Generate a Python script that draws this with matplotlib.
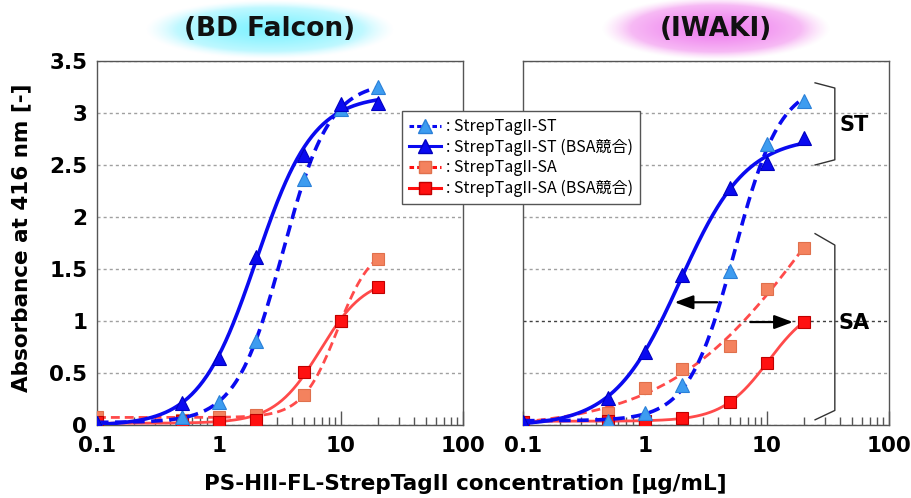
import numpy as np
import matplotlib
matplotlib.use("Agg")
import matplotlib.pyplot as plt
from matplotlib.lines import Line2D
import matplotlib.transforms as mtransforms

# ---------------- data ----------------
conc = [0.1, 0.5, 1, 2, 5, 10, 20]

falcon_st = [0.02, 0.08, 0.22, 0.81, 2.37, 3.04, 3.25]
falcon_st_bsa = [0.02, 0.21, 0.64, 1.62, 2.60, 3.09, 3.10]
falcon_sa = [0.08, 0.05, 0.08, 0.10, 0.29, 1.00, 1.60]
falcon_sa_bsa = [0.03, 0.04, 0.03, 0.05, 0.51, 1.00, 1.33]

iwaki_st = [0.02, 0.04, 0.12, 0.38, 1.48, 2.70, 3.12]
iwaki_st_bsa = [0.03, 0.26, 0.70, 1.44, 2.28, 2.52, 2.76]
iwaki_sa = [0.03, 0.12, 0.36, 0.54, 0.76, 1.31, 1.70]
iwaki_sa_bsa = [0.03, 0.04, 0.04, 0.07, 0.22, 0.60, 0.99]

series_labels = [": StrepTagII-ST", ": StrepTagII-ST (BSA競合)",
                 ": StrepTagII-SA", ": StrepTagII-SA (BSA競合)"]
panel_titles = ["(BD Falcon)", "(IWAKI)"]
xtick_vals = [0.1, 1, 10, 100]
xtick_labels = ["0.1", "1", "10", "100"]
ytick_vals = [0, 0.5, 1, 1.5, 2, 2.5, 3, 3.5]
ytick_labels = ["0", "0.5", "1", "1.5", "2", "2.5", "3", "3.5"]


def logistic(p, lx):
    a, d, m, b = p
    return a + (d - a) / (1.0 + 10.0 ** (-b * (lx - m)))


def fit_curve(x, y):
    """Four-parameter logistic fit (in log10 x) by Levenberg-Marquardt."""
    lx = np.log10(np.asarray(x, float)); y = np.asarray(y, float)
    half = y.min() + 0.5 * (y.max() - y.min())
    m0 = np.interp(half, np.sort(y), np.sort(lx))
    p = np.array([y.min(), y.max() * 1.05, m0, 2.0])
    sse = lambda q: np.sum((y - logistic(q, lx)) ** 2)
    lam = 1e-2
    cur = sse(p)
    for _ in range(800):
        r = y - logistic(p, lx)
        J = np.zeros((len(lx), 4))
        for j in range(4):
            dp = np.zeros(4); dp[j] = 1e-6
            J[:, j] = (logistic(p + dp, lx) - logistic(p - dp, lx)) / 2e-6
        A = J.T @ J; g = J.T @ r
        try:
            step = np.linalg.solve(A + lam * np.diag(np.diag(A) + 1e-9), g)
        except np.linalg.LinAlgError:
            break
        pn = p + step
        pn[3] = np.clip(pn[3], 0.3, 8)
        pn[1] = np.clip(pn[1], y.max() * 0.8, y.max() * 2.2)
        pn[2] = np.clip(pn[2], -1, 2)
        new = sse(pn)
        if np.isfinite(new) and new < cur:
            p, cur = pn, new; lam *= 0.3
        else:
            lam *= 10
        if lam > 1e8:
            break
    return p


plt.rcParams['font.family'] = ['DejaVu Sans']
fig = plt.figure(figsize=(9.12, 4.98), dpi=100)
W, H = 912, 498

# background glow ellipses behind titles
bg = fig.add_axes([0, 0, 1, 1], zorder=-5)
bg.set_xlim(0, W); bg.set_ylim(H, 0); bg.axis('off')


def glow(cx, cy, ax_, ay_, c_center, c_edge):
    x0, x1 = cx - ax_ - 5, cx + ax_ + 5
    y0, y1 = cy - ay_ - 5, cy + ay_ + 5
    xs = np.linspace(x0, x1, 300); ys = np.linspace(y0, y1, 120)
    X, Y = np.meshgrid(xs, ys)
    r = np.sqrt(((X - cx) / ax_) ** 2 + ((Y - cy) / ay_) ** 2)
    t = np.clip(r, 0, 1)[..., None]
    cc = np.array(matplotlib.colors.to_rgb(c_center)); ce = np.array(matplotlib.colors.to_rgb(c_edge))
    col = cc * (1 - t ** 1.3) + ce * t ** 1.3
    alpha = np.clip((1 - r) / 0.25, 0, 1)
    img = np.dstack([col, alpha])
    bg.imshow(img, extent=(x0, x1, y1, y0), interpolation='bilinear', aspect='auto')


glow(270, 30, 124, 29, '#7ff2ff', '#dcfbff')
glow(716, 29, 114, 31, '#ee7cee', '#fbd6f8')

c_lblue = '#3d9cf0'; c_blue = '#0a0af0'
c_orange = '#f4825e'; c_red = '#ff1010'
c_redline = '#ff4a4a'

ax_left = fig.add_axes([97 / W, 1 - 425 / H, 366 / W, 364 / H])
ax_right = fig.add_axes([523 / W, 1 - 425 / H, 366 / W, 364 / H])

xn = np.logspace(np.log10(conc[0]), np.log10(conc[-1]), 300)
lxn = np.log10(xn)

for ax, data, title, tx in [
        (ax_left, (falcon_st, falcon_st_bsa, falcon_sa, falcon_sa_bsa), panel_titles[0], 270),
        (ax_right, (iwaki_st, iwaki_st_bsa, iwaki_sa, iwaki_sa_bsa), panel_titles[1], 716)]:
    st, st_bsa, sa, sa_bsa = data
    fits = [np.clip(logistic(fit_curve(conc, s), lxn), 0.005, None) for s in (st, st_bsa, sa, sa_bsa)]
    # red curves first
    ax.plot(xn, fits[2], color=c_redline, lw=2.0, ls=(0, (3.2, 1.8)), zorder=3)
    ax.plot(xn, fits[3], color=c_redline, lw=2.0, zorder=3)
    ax.plot(conc, sa, ls='none', marker='s', ms=8.5, mfc=c_orange, mec='#e0704c', mew=0.8, zorder=4)
    ax.plot(conc, sa_bsa, ls='none', marker='s', ms=8.5, mfc=c_red, mec='#c00000', mew=0.8, zorder=4)
    ax.plot(xn, fits[0], color=c_blue, lw=2.6, ls=(0, (3.2, 1.8)), zorder=5)
    ax.plot(xn, fits[1], color=c_blue, lw=2.6, zorder=5)
    ax.plot(conc, st, ls='none', marker='^', ms=10, mfc=c_lblue, mec='#2a80d8', mew=0.8, zorder=6)
    ax.plot(conc, st_bsa, ls='none', marker='^', ms=10, mfc=c_blue, mec='#0000c0', mew=0.8, zorder=6)

    ax.set_xscale('log')
    ax.set_xlim(0.1, 100)
    ax.set_ylim(0, 3.5)
    ax.set_xticks(xtick_vals)
    ax.set_xticklabels(xtick_labels, fontsize=15.5, fontweight='bold')
    ax.tick_params(axis='x', which='major', direction='in', length=10, width=1, color='#555555', pad=8)
    ax.tick_params(axis='x', which='minor', direction='in', length=6, width=1, color='#555555')
    ax.set_yticks(ytick_vals)
    ax.tick_params(axis='y', length=0, pad=7)
    ax.grid(axis='y', color='#a0a0a0', ls=(0, (2.2, 2.2)), lw=1.0)
    ax.set_axisbelow(True)
    for s in ax.spines.values():
        s.set_color('#555555'); s.set_linewidth(1.0)
    fig.text(tx / W, 1 - 29 / H, title, ha='center', va='center', fontsize=19, fontweight='bold', color='#111111')

ax_left.set_yticklabels(ytick_labels, fontsize=15.5, fontweight='bold')
ax_right.set_yticklabels([])
# the y=1 guide line on the IWAKI panel is darker
ax_right.get_ygridlines()[2].set_color('#404040')

# brackets and annotations on the IWAKI panel
trans = mtransforms.blended_transform_factory(ax_right.transAxes, ax_right.transData)
ax_right.plot([0.798, 0.852, 0.852, 0.798], [3.29, 3.24, 2.55, 2.50], color='#333333', lw=1.0,
              transform=trans, clip_on=False, zorder=7)
ax_right.plot([0.798, 0.852, 0.852, 0.798], [1.84, 1.73, 0.14, 0.05], color='#333333', lw=1.0,
              transform=trans, clip_on=False, zorder=7)
ax_right.text(0.905, 2.88, "ST", transform=trans, ha='center', va='center', fontsize=15, fontweight='bold')
ax_right.text(0.905, 0.98, "SA", transform=trans, ha='center', va='center', fontsize=15, fontweight='bold')
arrow_style = dict(arrowstyle='-|>,head_length=0.8,head_width=0.3', color='black', lw=1.6,
                   mutation_scale=14, shrinkA=0, shrinkB=0)
ax_right.annotate("", xy=(1.75, 1.18), xytext=(3.9, 1.18), arrowprops=arrow_style, zorder=8)
ax_right.annotate("", xy=(16.3, 0.99), xytext=(7.3, 0.99), arrowprops=arrow_style, zorder=8)

# axis labels
fig.text(21 / W, 1 - 238 / H, "Absorbance at 416 nm [-]", rotation=90, ha='center', va='center',
         fontsize=15.5, fontweight='bold')
fig.text(465 / W, 1 - 484 / H, "PS-HII-FL-StrepTagII concentration [μg/mL]", ha='center', va='center',
         fontsize=15.5, fontweight='bold')

# legend
handles = [
    Line2D([], [], color=c_blue, lw=2.2, ls=(0, (1.5, 1)), marker='^', ms=10, mfc=c_lblue, mec='#2a80d8'),
    Line2D([], [], color=c_blue, lw=2.2, marker='^', ms=10, mfc=c_blue, mec='#0000c0'),
    Line2D([], [], color=c_red, lw=2.2, ls=(0, (1.5, 1)), marker='s', ms=8.5, mfc=c_orange, mec='#e0704c'),
    Line2D([], [], color=c_red, lw=2.2, marker='s', ms=8.5, mfc=c_red, mec='#c00000'),
]
leg = fig.legend(handles, series_labels, loc='upper left', bbox_to_anchor=(402 / W, 1 - 111 / H),
                 bbox_transform=fig.transFigure, frameon=True, fancybox=False, framealpha=1,
                 edgecolor='#555555', handlelength=2.0, handletextpad=0.3, labelspacing=0.22,
                 borderpad=0.45, borderaxespad=0,
                 prop={'family': ['Noto Sans CJK JP', 'DejaVu Sans'], 'size': 11.5})
leg.get_frame().set_linewidth(1.0)
leg.set_zorder(20)

fig.savefig("out.png", dpi=100)
